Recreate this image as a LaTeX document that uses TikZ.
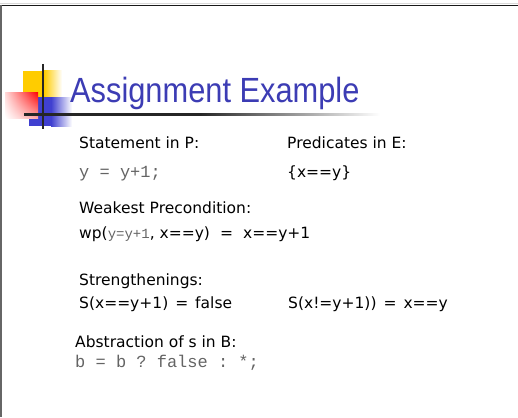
\documentclass[tikz,border=0pt]{standalone}
\usepackage{fontspec}
\usetikzlibrary{shadings}
\setmainfont{DejaVu Sans}
\setmonofont{Liberation Mono}
\newfontfamily\titlefont{Liberation Sans}

\begin{document}
\begin{tikzpicture}[x=1pt, y=-1pt,
    body/.style={anchor=base west, inner sep=0pt, font=\fontsize{15.5}{19}\selectfont},
    code/.style={anchor=base west, inner sep=0pt, font=\fontsize{17}{20}\ttfamily, text=codegray}]
    % Define colors
    \definecolor{titleblue}{RGB}{60, 60, 180}
    \definecolor{codegray}{RGB}{100, 100, 100}
    \definecolor{logoyellow}{RGB}{255, 204, 0}
    \definecolor{logoblue}{RGB}{64, 64, 208}
    \definecolor{logored}{RGB}{255, 0, 0}

    \useasboundingbox (0,0) rectangle (518,417);

    % Draw slide frame
    \draw[black!15, line width=1pt] (0,4) -- (518,4);
    \draw[black!90, line width=1.3pt] (0,5.5) -- (518,5.5);
    \draw[black!60, line width=1.5pt] (1,5) -- (1,417);

    % Draw logo squares
    \fill[logoyellow] (23,71) rectangle (44,110);
    \shade[left color=logoyellow, right color=white] (44,71) rectangle (62,110);
    \fill[logoblue] (29,97) rectangle (51,126);
    \shade[left color=logoblue, right color=white] (51,97) rectangle (72,126);
    \shade[upper right=logored, upper left=logored!15, lower left=white, lower right=logored!35] (5,92) rectangle (38,118);

    % Draw logo cross lines
    \draw[line width=2pt, black!85] (43,64) -- (43,129);
    \fill[black!85] (24,113) rectangle (200,115.5);
    \shade[left color=black!85, right color=white] (200,113) rectangle (380,115.5);

    % Title
    \node[anchor=base west, inner sep=0pt, text=titleblue, xscale=0.88,
          font=\titlefont\fontsize{35}{40}\selectfont] (title) at (70,102) {Assignment Example};

    % Statement and predicates
    \node[body] (stmtlbl) at (79,148) {Statement in P:};
    \node[body] (predlbl) at (287,148) {Predicates in E:};
    \node[code] (stmt) at (79,177) {y = y+1;};
    \node[body] (pred) at (287,177) {\{x==y\}};

    % Weakest precondition
    \node[body] (wplbl) at (79,213) {Weakest Precondition:};
    \node[body] (wp) at (79,238) {wp({\fontsize{14}{16}\ttfamily\color{codegray}y=y+1}, x==y)\hspace{0.65em}=\hspace{0.65em}x==y+1};

    % Strengthenings
    \node[body] (strlbl) at (79,285) {Strengthenings:};
    \node[body] (sfalse) at (79,308) {S(x==y+1)\hspace{0.45em}=\hspace{0.45em}false};
    \node[body] (strue) at (288,308) {S(x!=y+1))\hspace{0.45em}=\hspace{0.45em}x==y};

    % Abstraction
    \node[body] (abslbl) at (75,347) {Abstraction of s in B:};
    \node[code] (abs) at (75,367) {b = b ? false : *;};
\end{tikzpicture}
\end{document}
